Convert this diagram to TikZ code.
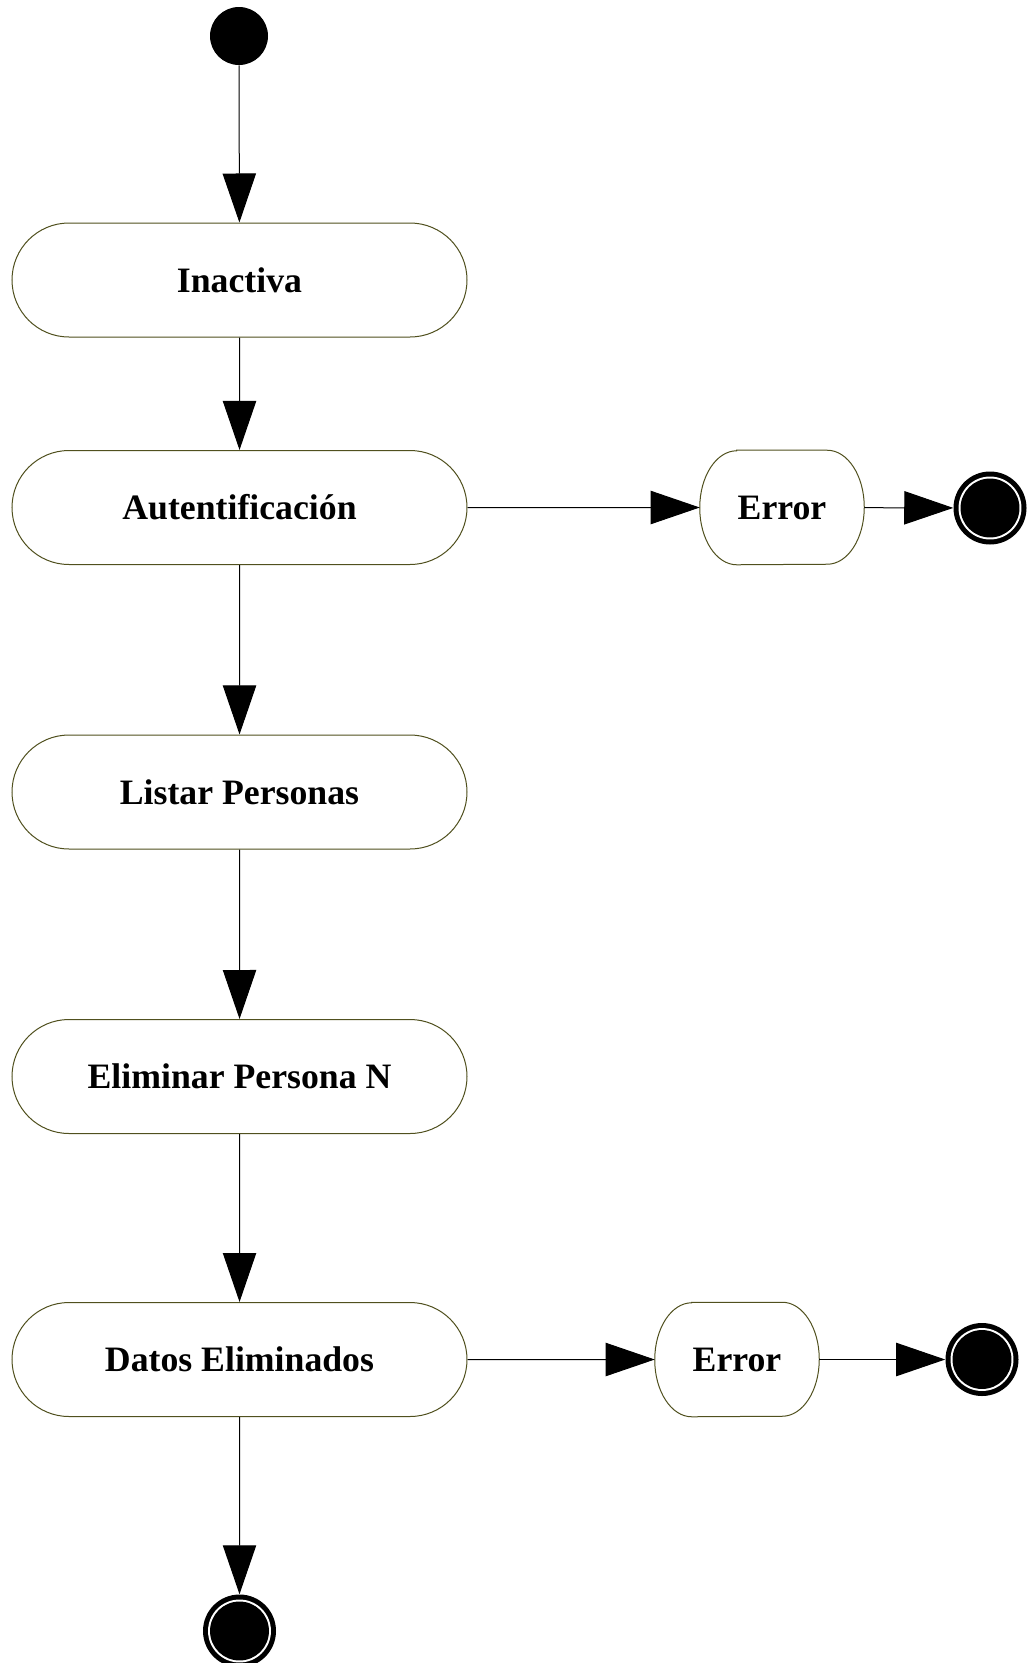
\documentclass[tikz,border=0pt]{standalone}
\usepackage{fontspec}
\setmainfont{Liberation Serif}
\usetikzlibrary{arrows.meta,shapes.misc}
\definecolor{frame}{RGB}{80,80,30}
\begin{document}
\begin{tikzpicture}[x=0.75pt,y=0.75pt,
  statebox/.style={rounded rectangle, draw=frame, line width=0.75pt, fill=white,
    minimum width=341.25pt, minimum height=85.5pt, inner sep=0pt,
    font=\fontsize{26.8}{32}\selectfont\bfseries},
  errbox/.style={draw=none, minimum width=123pt, minimum height=85.5pt, inner sep=0pt,
    font=\fontsize{26.8}{32}\selectfont\bfseries},
  initial/.style={circle, fill=black, minimum size=43.5pt, inner sep=0pt},
  final/.style={circle, fill=black, minimum size=54.75pt, inner sep=0pt,
    path picture={
      \fill[white] (path picture bounding box.center) circle (23.6pt);
      \fill[black] (path picture bounding box.center) circle (22.1pt);}},
  flow/.style={line width=0.75pt, -{Triangle[length=36.75pt,width=25pt]}}
]
\useasboundingbox (0,0) rectangle (1026,-1663);

% activity states
\node[initial] (start) at (239,-36) {};
\node[statebox] (inact) at (239.5,-280) {Inactiva};
\node[statebox] (auth)  at (239.5,-507.5) {Autentificación};
\node[statebox] (list)  at (239.5,-792) {Listar Personas};
\node[statebox] (elim)  at (239.5,-1076.5) {Eliminar Persona N};
\node[statebox] (datos) at (239.5,-1359.5) {Datos Eliminados};
\node[errbox] (err1) at (782,-507.5) {Error};
\node[errbox] (err2) at (737,-1359.5) {Error};

% outlines of the error states (elliptical corners)
\newcommand\errframe[1]{%
  \draw[draw=frame, line width=0.75pt]
    ([xshift=27.75pt]#1.north west) -- ([xshift=-27.75pt]#1.north east)
    arc[start angle=90, end angle=-90, x radius=27.75pt, y radius=42.75pt]
    -- ([xshift=27.75pt]#1.south west)
    arc[start angle=270, end angle=90, x radius=27.75pt, y radius=42.75pt]
    -- cycle;}
\errframe{err1}
\errframe{err2}

% final states
\node[final] (fin1) at (990,-508) {};
\node[final] (fin2) at (982,-1359.5) {};
\node[final] (fin3) at (239.5,-1631) {};

% transitions
\draw[flow] (start) -- (inact);
\draw[flow] (inact) -- (auth);
\draw[flow] (auth) -- (list);
\draw[flow] (list) -- (elim);
\draw[flow] (elim) -- (datos);
\draw[flow] (datos) -- (fin3);
\draw[flow] (auth) -- (err1);
\draw[flow] (err1) -- (fin1);
\draw[flow] (datos) -- (err2);
\draw[flow] (err2) -- (fin2);
\end{tikzpicture}
\end{document}
